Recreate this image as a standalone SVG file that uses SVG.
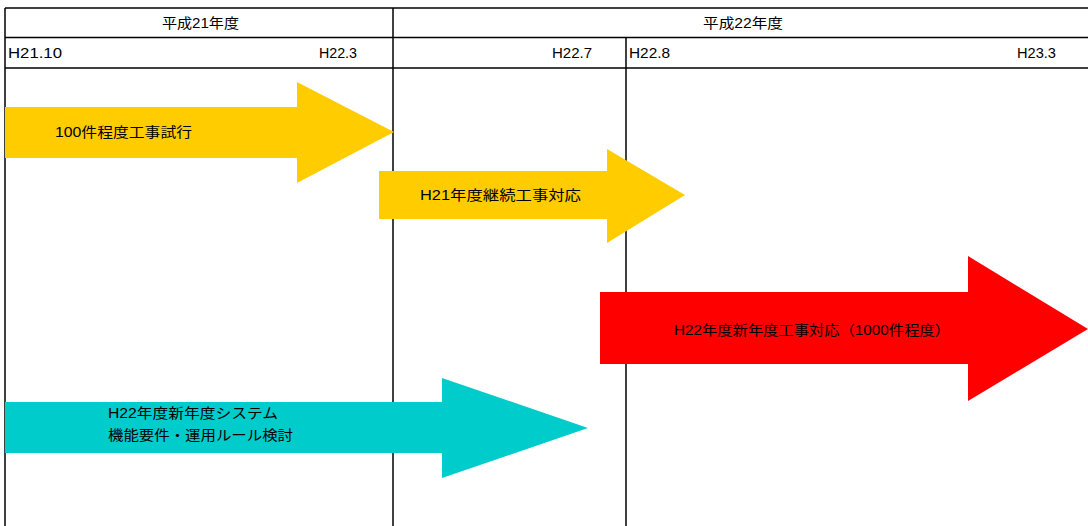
<svg xmlns="http://www.w3.org/2000/svg" width="1088" height="526" viewBox="0 0 1088 526">
<style>
.grid{stroke:#000;stroke-width:1.5;fill:none}
.t{font-family:"Liberation Sans","Noto Sans CJK JP",sans-serif;font-size:14px;fill:#000}
.yellow{fill:#FFCC00}
.red{fill:#FF0000}
.cyan{fill:#00CCCC}
</style>
<rect width="1088" height="526" fill="#fff"/>
<g id="grid">
<line class="grid" x1="5" y1="8" x2="1088" y2="8"/>
<line class="grid" x1="5" y1="37.5" x2="1088" y2="37.5"/>
<line class="grid" x1="5" y1="68" x2="1088" y2="68"/>
<line class="grid" x1="5" y1="8" x2="5" y2="526"/>
<line class="grid" x1="393" y1="8" x2="393" y2="526"/>
<line class="grid" x1="626" y1="37.5" x2="626" y2="526"/>
</g>
<g id="headers">
<text class="t" x="162" y="28" textLength="77" lengthAdjust="spacingAndGlyphs">平成21年度</text>
<text class="t" x="703" y="28" textLength="80" lengthAdjust="spacingAndGlyphs">平成22年度</text>
<text class="t" x="8" y="58" textLength="54" lengthAdjust="spacingAndGlyphs">H21.10</text>
<text class="t" x="319" y="58" textLength="38" lengthAdjust="spacingAndGlyphs">H22.3</text>
<text class="t" x="552" y="58" textLength="40" lengthAdjust="spacingAndGlyphs">H22.7</text>
<text class="t" x="629" y="58" textLength="41" lengthAdjust="spacingAndGlyphs">H22.8</text>
<text class="t" x="1017" y="58" textLength="39" lengthAdjust="spacingAndGlyphs">H23.3</text>
</g>
<g id="arrow1">
<polygon class="yellow" points="5,107 297,107 297,82 394,132 297,183 297,158 5,158"/>
<text class="t" x="55" y="137" textLength="137" lengthAdjust="spacingAndGlyphs">100件程度工事試行</text>
</g>
<g id="arrow2">
<polygon class="yellow" points="379,171 607,171 607,149 685,195 607,243 607,219 379,219"/>
<text class="t" x="420" y="200" textLength="161" lengthAdjust="spacingAndGlyphs">H21年度継続工事対応</text>
</g>
<g id="arrow3">
<polygon class="red" points="600,292 968,292 968,256 1088,329 968,401 968,364 600,364"/>
<text class="t" x="674" y="335" textLength="276" lengthAdjust="spacingAndGlyphs">H22年度新年度工事対応（1000件程度）</text>
</g>
<g id="arrow4">
<polygon class="cyan" points="5,402 442,402 442,378 588,428 442,478 442,453 5,453"/>
<text class="t" x="108" y="418" textLength="170" lengthAdjust="spacingAndGlyphs">H22年度新年度システム</text>
<text class="t" x="108" y="440" textLength="185" lengthAdjust="spacingAndGlyphs">機能要件・運用ルール検討</text>
</g>
</svg>
